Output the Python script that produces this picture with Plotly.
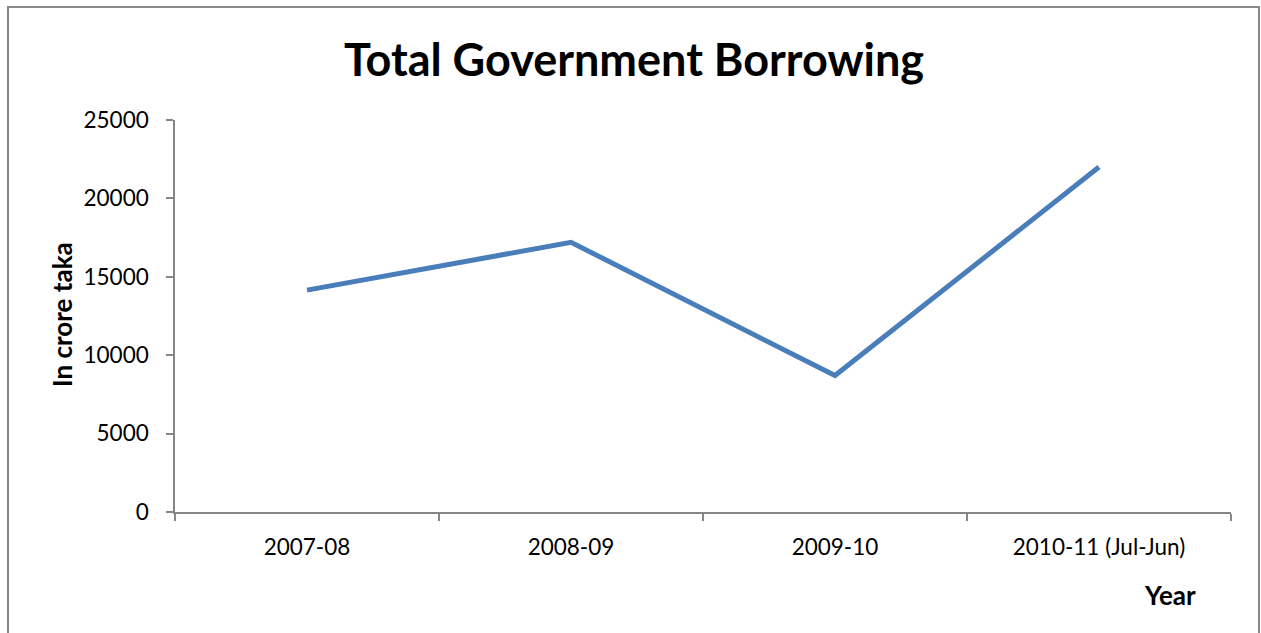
import plotly.graph_objects as go

years = ["2007-08", "2008-09", "2009-10", "2010-11 (Jul-Jun)"]
borrowing = [14150, 17200, 8700, 22000]
y_ticks = [0, 5000, 10000, 15000, 20000, 25000]

W, H = 1261, 633
L, R, T, B = 175, 1231, 120, 512

fig = go.Figure()
fig.add_trace(go.Scatter(
    x=years, y=borrowing, mode="lines",
    line=dict(color="#4A7EBB", width=5),
    showlegend=False, hoverinfo="x+y",
))

pw, ph = R - L, B - T
def px_x(x):
    return (x - L) / pw
def px_y(y):
    return (B - y) / ph

fig.update_layout(
    width=W, height=H,
    margin=dict(l=L, r=W - R, t=T, b=H - B),
    paper_bgcolor="white", plot_bgcolor="white",
    font=dict(family="Lato, Open Sans, sans-serif", color="black"),
    title=dict(text="<b>Total Government Borrowing</b>",
               font=dict(size=45, family="Lato, Open Sans, sans-serif", color="black"),
               x=634 / W, xanchor="center", y=1 - 60 / H, yanchor="middle"),
    xaxis=dict(
        type="category", range=[-0.5, 3.5], tickson="boundaries",
        ticks="outside", ticklen=7, tickcolor="#868686", tickwidth=1.5,
        showline=True, linecolor="#868686", linewidth=1.5,
        showgrid=False, zeroline=False,
        tickfont=dict(size=22.5, color="black"), ticklabelstandoff=14,
    ),
    yaxis=dict(
        range=[0, 25000], tickvals=y_ticks, ticktext=[str(v) for v in y_ticks],
        ticks="outside", ticklen=7, tickcolor="#868686", tickwidth=1.5,
        showline=True, linecolor="#868686", linewidth=1.5,
        showgrid=False, zeroline=False,
        tickfont=dict(size=22.5, color="black"), ticklabelstandoff=13,
    ),
    shapes=[dict(type="rect", xref="paper", yref="paper",
                 x0=px_x(8), x1=px_x(1259), y0=px_y(645), y1=px_y(7),
                 line=dict(color="#888888", width=2), fillcolor="rgba(0,0,0,0)",
                 layer="below")],
    annotations=[
        dict(text="<b>In crore taka</b>", xref="paper", yref="paper",
             x=px_x(62), y=px_y(315), xanchor="center", yanchor="middle",
             textangle=-90, showarrow=False, font=dict(size=26, color="black")),
        dict(text="<b>Year</b>", xref="paper", yref="paper",
             x=px_x(1170), y=px_y(595), xanchor="center", yanchor="middle",
             showarrow=False, font=dict(size=26, color="black")),
    ],
)

fig.write_html("out.html")
